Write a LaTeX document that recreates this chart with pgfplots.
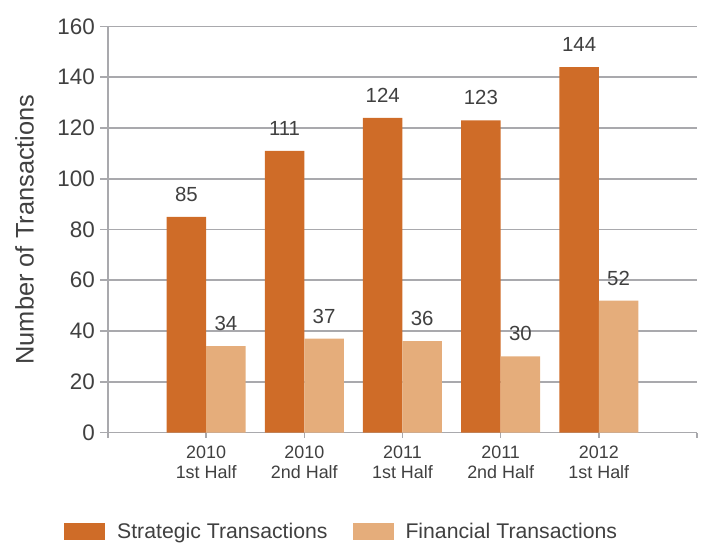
\documentclass[border=0pt]{standalone}
\usepackage{fontspec}
\setmainfont{Liberation Sans}
\usepackage{pgfplots}
\pgfplotsset{compat=1.18}
\definecolor{strat}{HTML}{CF6C28}
\definecolor{fin}{HTML}{E5AD7B}
\definecolor{axisgray}{HTML}{A9A9AD}
\definecolor{txt}{HTML}{404040}
\begin{document}
\begin{tikzpicture}
\begin{axis}[
  scale only axis,
  width=589bp, height=406bp,
  xmin=-1, xmax=5, ymin=0, ymax=160,
  axis x line*=bottom, axis y line*=left,
  axis line style={-, draw=axisgray, line width=1.6bp},
  ymajorgrids,
  grid style={draw=axisgray, line width=1.6bp},
  tick align=outside,
  major tick length=8bp,
  tick style={draw=axisgray, line width=1.6bp},
  xtick style={/pgfplots/major tick length=5bp},
  xtick={-1,0,1,2,3,4,5},
  xticklabels={{},{2010\\1st Half},{2010\\2nd Half},{2011\\1st Half},{2011\\2nd Half},{2012\\1st Half},{}},
  ytick={0,20,...,160},
  /pgf/number format/assume math mode=true,
  xticklabel style={align=center, font=\fontsize{18}{20}\selectfont, text=txt, inner sep=0pt, yshift=-5bp},
  yticklabel style={font=\fontsize{22.5}{24}\selectfont, text=txt, inner sep=0pt, xshift=-5bp},
  ylabel={Number of Transactions},
  ylabel style={at={(axis description cs:-0.158,0.5)}, anchor=north, inner sep=0pt, font=\fontsize{25.5}{28}\selectfont, text=txt},
  nodes near coords,
  every node near coord/.append style={font=\fontsize{20.5}{22}\selectfont, text=txt, inner sep=0pt, anchor=south, yshift=15bp},
  legend columns=2,
  legend style={at={(axis description cs:-0.0747,-0.2438)}, anchor=west, draw=none, fill=none, inner sep=0pt,
    font=\fontsize{21.3}{23}\selectfont, text=txt,
    nodes={inner sep=0pt},
    /tikz/every odd column/.append style={column sep=12bp},
    /tikz/every even column/.append style={column sep=25bp}},
]
\addplot[ybar, bar width=39.5bp, bar shift=-19.75bp, fill=strat, draw=none,
  nodes near coords style={xshift=-19.75bp},
  legend image code/.code={\fill[strat] (0bp,-8.5bp) rectangle (41bp,8.5bp);}]
  coordinates {(0,85) (1,111) (2,124) (3,123) (4,144)};
\addlegendentry{Strategic Transactions}
\addplot[ybar, bar width=39.5bp, bar shift=19.75bp, fill=fin, draw=none,
  nodes near coords style={xshift=19.75bp},
  legend image code/.code={\fill[fin] (0bp,-8.5bp) rectangle (41bp,8.5bp);}]
  coordinates {(0,34) (1,37) (2,36) (3,30) (4,52)};
\addlegendentry{Financial Transactions}
\end{axis}
\pgfresetboundingbox
\path (-108bp,-111.5bp) rectangle (593bp,432.5bp);
\end{tikzpicture}
\end{document}
